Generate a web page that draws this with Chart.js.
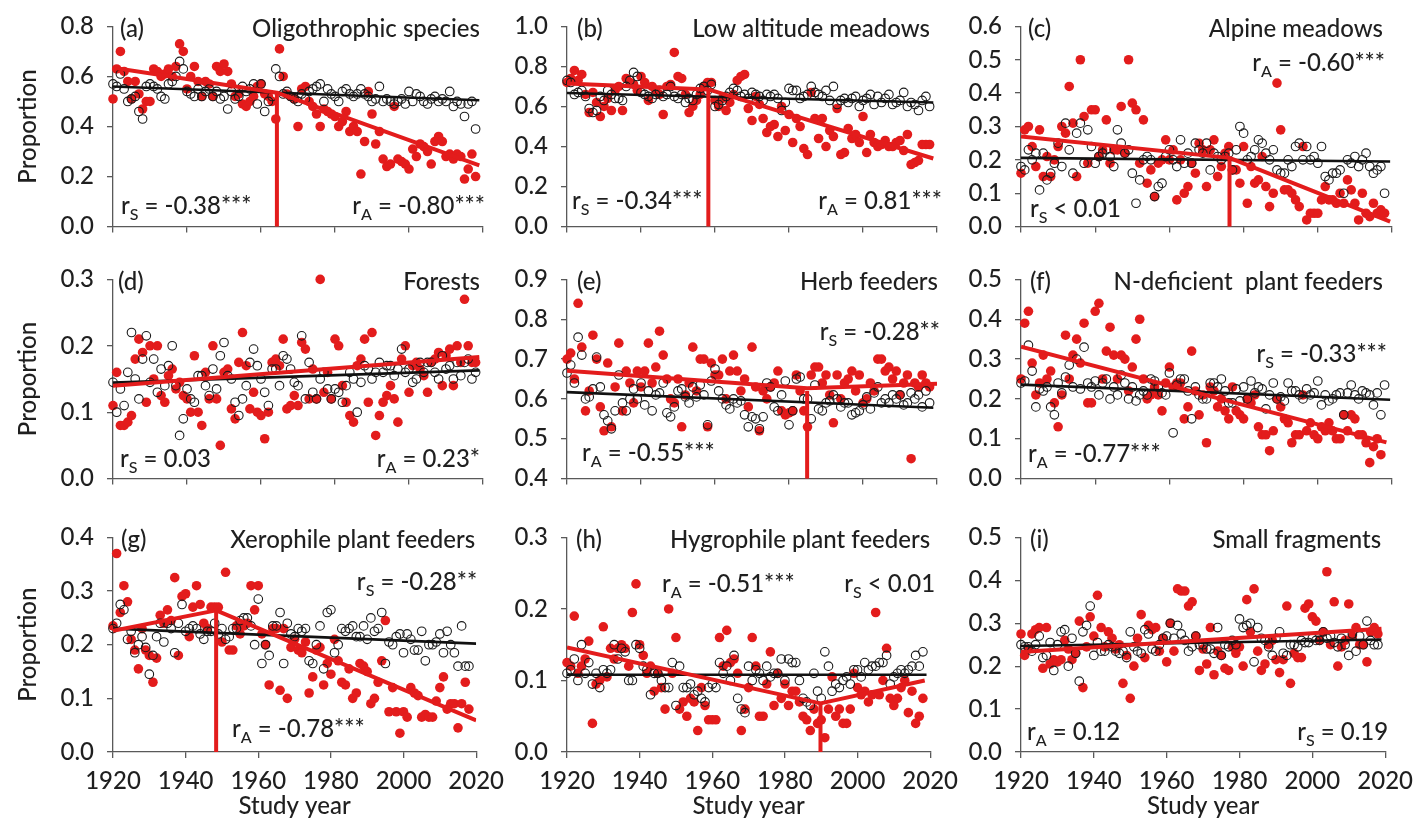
<!DOCTYPE html>
<html><head><meta charset="utf-8">
<script src="https://cdn.jsdelivr.net/npm/chart.js@4.4.0/dist/chart.umd.min.js"></script>
<style>
html,body{margin:0;padding:0;background:#fff;width:1420px;height:818px;overflow:hidden;position:relative}
canvas{position:absolute}
</style></head><body>
<script>
// ---------------- DATA ----------------
const YEARS = [1920,1921,1922,1923,1924,1925,1926,1927,1928,1929,
1930,1931,1932,1933,1934,1935,1936,1937,1938,1939,
1940,1941,1942,1943,1944,1945,1946,1947,1948,1949,
1950,1951,1952,1953,1954,1955,1956,1957,1958,1959,
1960,1961,1962,1963,1964,1965,1966,1967,1968,1969,
1970,1971,1972,1973,1974,1975,1976,1977,1978,1979,
1980,1981,1982,1983,1984,1985,1986,1987,1988,1989,
1990,1991,1992,1993,1994,1995,1996,1997,1998,1999,
2000,2001,2002,2003,2004,2005,2006,2007,2008,2009,
2010,2011,2012,2013,2014,2015,2016,2017,2018];
const X_TICKS = [1920,1940,1960,1980,2000,2020];

// (a) Oligothrophic species
const A_RED = [0.51,0.63,0.70,0.62,0.58,0.51,0.58,0.53,0.47,0.50,
0.50,0.63,0.62,0.60,0.61,0.63,0.60,0.64,0.73,0.70,
0.55,0.60,0.64,0.58,0.52,0.58,0.57,0.52,0.64,0.62,
0.65,0.62,0.57,0.52,0.53,0.49,0.48,0.50,0.52,0.56,
0.57,0.53,0.52,0.50,0.43,0.71,0.60,0.53,0.52,0.51,
0.40,0.55,0.56,0.50,0.48,0.45,0.40,0.47,0.46,0.45,
0.44,0.40,0.42,0.46,0.38,0.40,0.38,0.21,0.34,0.54,
0.45,0.33,0.38,0.27,0.24,0.25,0.48,0.27,0.26,0.25,
0.23,0.31,0.28,0.33,0.32,0.30,0.25,0.34,0.36,0.34,
0.28,0.29,0.27,0.29,0.28,0.19,0.23,0.29,0.20];
const A_BLACK = [0.57,0.56,0.61,0.55,0.50,0.51,0.52,0.46,0.43,0.56,
0.57,0.56,0.55,0.52,0.51,0.57,0.58,0.60,0.66,0.63,
0.54,0.53,0.52,0.55,0.52,0.54,0.55,0.52,0.54,0.51,
0.52,0.47,0.54,0.51,0.52,0.56,0.54,0.55,0.57,0.49,
0.57,0.46,0.50,0.52,0.63,0.60,0.53,0.54,0.52,0.51,
0.50,0.53,0.51,0.54,0.55,0.56,0.57,0.50,0.55,0.53,
0.52,0.50,0.54,0.55,0.53,0.52,0.53,0.55,0.53,0.52,
0.50,0.51,0.56,0.50,0.51,0.50,0.49,0.50,0.51,0.49,
0.54,0.50,0.53,0.52,0.50,0.49,0.51,0.52,0.50,0.51,
0.50,0.54,0.48,0.50,0.49,0.44,0.49,0.50,0.39];
const A_RED_FIT_X = [1920,1964.3,2019], A_RED_FIT_Y = [0.635,0.535,0.245];
const A_BLACK_FIT_X = [1920,2019], A_BLACK_FIT_Y = [0.56,0.505];
const A_BREAK = [1964.3,0.535];

// (b) Low altitude meadows
const B_RED = [0.72,0.74,0.78,0.73,0.76,0.66,0.57,0.67,0.62,0.55,
0.60,0.64,0.58,0.68,0.70,0.58,0.74,0.72,0.71,0.68,
0.75,0.72,0.63,0.70,0.68,0.66,0.56,0.70,0.71,0.87,
0.75,0.74,0.66,0.57,0.60,0.63,0.66,0.70,0.72,0.72,
0.63,0.60,0.64,0.58,0.62,0.66,0.73,0.75,0.76,0.59,
0.53,0.65,0.61,0.54,0.47,0.50,0.51,0.45,0.60,0.48,
0.56,0.42,0.54,0.50,0.39,0.36,0.67,0.54,0.44,0.54,
0.40,0.48,0.45,0.59,0.36,0.37,0.49,0.44,0.46,0.42,
0.55,0.37,0.46,0.42,0.40,0.41,0.43,0.40,0.40,0.42,
0.43,0.38,0.46,0.31,0.32,0.33,0.41,0.41,0.41];
const B_BLACK = [0.73,0.72,0.66,0.67,0.68,0.65,0.59,0.57,0.58,0.65,
0.63,0.68,0.66,0.64,0.64,0.63,0.70,0.73,0.77,0.75,
0.67,0.66,0.65,0.64,0.66,0.68,0.65,0.66,0.70,0.65,
0.64,0.66,0.62,0.64,0.63,0.66,0.69,0.70,0.68,0.71,
0.60,0.61,0.63,0.65,0.67,0.69,0.68,0.65,0.66,0.64,
0.67,0.66,0.65,0.63,0.66,0.65,0.66,0.64,0.58,0.62,
0.69,0.68,0.68,0.64,0.65,0.66,0.70,0.67,0.66,0.65,
0.68,0.63,0.70,0.61,0.63,0.64,0.62,0.64,0.65,0.60,
0.63,0.64,0.66,0.61,0.65,0.62,0.64,0.66,0.61,0.62,
0.63,0.67,0.60,0.62,0.61,0.58,0.63,0.65,0.60];
const B_RED_FIT_X = [1920,1958.2,2019], B_RED_FIT_Y = [0.715,0.685,0.34];
const B_BLACK_FIT_X = [1920,2019], B_BLACK_FIT_Y = [0.667,0.62];
const B_BREAK = [1958.2,0.685];

// (c) Alpine meadows
const C_RED = [0.16,0.29,0.30,0.24,0.18,0.29,0.15,0.21,0.15,0.20,
0.24,0.30,0.28,0.42,0.31,0.15,0.50,0.33,0.19,0.35,
0.35,0.21,0.23,0.32,0.19,0.23,0.23,0.36,0.22,0.50,
0.37,0.35,0.19,0.32,0.13,0.17,0.09,0.19,0.20,0.26,
0.20,0.23,0.08,0.20,0.10,0.12,0.19,0.16,0.25,0.23,
0.12,0.23,0.26,0.15,0.18,0.22,0.24,0.17,0.17,0.13,
0.24,0.07,0.18,0.13,0.14,0.21,0.12,0.06,0.10,0.43,
0.29,0.11,0.11,0.10,0.08,0.06,0.24,0.02,0.04,0.04,
0.04,0.08,0.12,0.08,0.08,0.07,0.10,0.07,0.14,0.11,
0.07,0.02,0.10,0.04,0.03,0.07,0.04,0.05,0.04];
const C_BLACK = [0.18,0.17,0.23,0.20,0.22,0.11,0.22,0.14,0.16,0.19,
0.25,0.18,0.31,0.23,0.16,0.28,0.31,0.19,0.29,0.24,
0.19,0.21,0.22,0.23,0.21,0.18,0.29,0.25,0.22,0.23,
0.16,0.07,0.14,0.20,0.21,0.20,0.09,0.12,0.13,0.21,
0.23,0.20,0.18,0.26,0.19,0.22,0.19,0.25,0.23,0.22,
0.25,0.17,0.22,0.21,0.20,0.21,0.22,0.17,0.23,0.30,
0.28,0.20,0.21,0.23,0.26,0.25,0.22,0.20,0.23,0.17,
0.16,0.16,0.20,0.18,0.24,0.25,0.20,0.24,0.20,0.21,
0.19,0.24,0.15,0.14,0.16,0.16,0.17,0.10,0.20,0.19,
0.21,0.18,0.20,0.22,0.18,0.16,0.17,0.18,0.10];
const C_RED_FIT_X = [1920,1976.2,2019.5], C_RED_FIT_Y = [0.27,0.206,0.015];
const C_BLACK_FIT_X = [1920,2019.5], C_BLACK_FIT_Y = [0.206,0.195];
const C_BREAK = [1976.2,0.206];

// (d) Forests
const D_RED = [0.11,0.16,0.08,0.08,0.085,0.095,0.18,0.21,0.19,0.115,
0.20,0.15,0.20,0.125,0.115,0.155,0.165,0.135,0.145,0.125,
0.12,0.10,0.185,0.10,0.08,0.16,0.12,0.20,0.12,0.05,
0.16,0.165,0.105,0.09,0.175,0.22,0.17,0.105,0.13,0.10,
0.095,0.06,0.10,0.175,0.18,0.17,0.21,0.105,0.11,0.125,
0.11,0.205,0.195,0.12,0.165,0.12,0.30,0.13,0.16,0.12,
0.21,0.20,0.14,0.115,0.095,0.085,0.17,0.18,0.21,0.115,
0.22,0.065,0.095,0.115,0.125,0.14,0.12,0.085,0.18,0.20,
0.13,0.17,0.175,0.165,0.155,0.13,0.175,0.18,0.19,0.14,
0.185,0.195,0.14,0.20,0.175,0.27,0.20,0.175,0.175];
const D_BLACK = [0.145,0.10,0.135,0.11,0.16,0.22,0.15,0.12,0.18,0.215,
0.145,0.18,0.13,0.165,0.14,0.17,0.20,0.14,0.065,0.09,
0.135,0.12,0.115,0.155,0.155,0.14,0.125,0.165,0.135,0.185,
0.205,0.155,0.15,0.115,0.095,0.12,0.14,0.175,0.195,0.17,
0.15,0.13,0.11,0.165,0.165,0.14,0.185,0.18,0.165,0.145,
0.14,0.215,0.12,0.175,0.13,0.12,0.15,0.16,0.135,0.12,
0.135,0.13,0.115,0.14,0.16,0.15,0.10,0.145,0.17,0.165,
0.15,0.16,0.175,0.16,0.17,0.17,0.155,0.165,0.195,0.16,
0.165,0.145,0.15,0.175,0.16,0.175,0.175,0.16,0.15,0.185,
0.165,0.17,0.15,0.175,0.155,0.175,0.18,0.15,0.16];
const D_RED_FIT_X = [1920,2019], D_RED_FIT_Y = [0.14,0.183];
const D_BLACK_FIT_X = [1920,2019], D_BLACK_FIT_Y = [0.1445,0.163];

// (e) Herb feeders
const E_RED = [0.70,0.715,0.65,0.84,0.73,0.57,0.62,0.76,0.70,0.58,
0.52,0.69,0.53,0.63,0.74,0.57,0.67,0.64,0.59,0.67,
0.63,0.67,0.74,0.64,0.68,0.77,0.71,0.65,0.60,0.59,
0.65,0.53,0.61,0.64,0.73,0.62,0.70,0.70,0.53,0.69,
0.66,0.66,0.70,0.60,0.67,0.71,0.67,0.62,0.65,0.58,
0.73,0.63,0.52,0.62,0.60,0.63,0.64,0.67,0.57,0.56,
0.565,0.57,0.66,0.62,0.57,0.53,0.66,0.68,0.68,0.64,
0.66,0.61,0.54,0.66,0.60,0.64,0.65,0.67,0.62,0.66,
0.59,0.60,0.64,0.62,0.70,0.70,0.67,0.68,0.65,0.67,
0.61,0.64,0.66,0.45,0.64,0.63,0.66,0.64,0.63];
const E_BLACK = [0.665,0.685,0.64,0.755,0.71,0.60,0.605,0.625,0.705,0.63,
0.56,0.545,0.525,0.57,0.66,0.59,0.57,0.60,0.625,0.60,
0.64,0.585,0.62,0.57,0.61,0.615,0.64,0.565,0.555,0.58,
0.62,0.625,0.605,0.59,0.63,0.605,0.635,0.61,0.535,0.645,
0.675,0.62,0.60,0.585,0.575,0.60,0.59,0.595,0.56,0.53,
0.555,0.55,0.525,0.555,0.64,0.63,0.58,0.57,0.61,0.645,
0.535,0.57,0.65,0.655,0.60,0.60,0.55,0.635,0.575,0.57,
0.59,0.595,0.61,0.60,0.58,0.59,0.59,0.56,0.565,0.57,
0.585,0.605,0.575,0.615,0.63,0.59,0.60,0.59,0.61,0.60,
0.61,0.585,0.59,0.615,0.60,0.61,0.58,0.62,0.59];
const E_RED_FIT_X = [1920,1984.9,2020], E_RED_FIT_Y = [0.671,0.627,0.638];
const E_BLACK_FIT_X = [1920,2019], E_BLACK_FIT_Y = [0.617,0.578];
const E_BREAK = [1984.9,0.62];

// (f) N-deficient plant feeders
const F_RED = [0.25,0.39,0.42,0.29,0.21,0.24,0.31,0.25,0.27,0.19,
0.13,0.21,0.36,0.25,0.31,0.35,0.29,0.39,0.19,0.19,
0.42,0.44,0.25,0.32,0.38,0.31,0.25,0.31,0.30,0.22,
0.28,0.35,0.40,0.25,0.20,0.21,0.23,0.21,0.17,0.24,
0.28,0.23,0.24,0.24,0.15,0.18,0.32,0.22,0.16,0.21,
0.09,0.23,0.22,0.18,0.20,0.17,0.15,0.23,0.17,0.16,
0.15,0.20,0.19,0.21,0.13,0.11,0.11,0.07,0.12,0.20,
0.18,0.15,0.14,0.09,0.11,0.11,0.21,0.12,0.14,0.11,
0.10,0.13,0.12,0.14,0.12,0.10,0.10,0.16,0.12,0.16,
0.15,0.11,0.11,0.09,0.04,0.08,0.10,0.06];
const F_BLACK = [0.24,0.245,0.335,0.27,0.18,0.225,0.22,0.23,0.18,0.16,
0.24,0.215,0.255,0.285,0.23,0.30,0.225,0.33,0.24,0.23,
0.245,0.21,0.24,0.25,0.20,0.23,0.21,0.26,0.24,0.20,
0.23,0.195,0.21,0.22,0.21,0.25,0.245,0.23,0.215,0.21,
0.265,0.115,0.235,0.25,0.25,0.22,0.15,0.23,0.21,0.20,
0.20,0.24,0.24,0.23,0.25,0.22,0.19,0.19,0.225,0.195,
0.23,0.20,0.245,0.215,0.23,0.225,0.175,0.21,0.24,0.20,
0.205,0.195,0.24,0.22,0.22,0.21,0.20,0.225,0.21,0.215,
0.245,0.185,0.21,0.195,0.20,0.21,0.215,0.16,0.215,0.235,
0.21,0.20,0.22,0.215,0.21,0.185,0.215,0.16,0.235];
const F_RED_FIT_X = [1920,2018.5], F_RED_FIT_Y = [0.331,0.091];
const F_BLACK_FIT_X = [1920,2019.5], F_BLACK_FIT_Y = [0.236,0.198];

// (g) Xerophile plant feeders
const G_RED = [0.235,0.37,0.26,0.31,0.28,0.21,0.19,0.155,0.23,0.19,
0.18,0.13,0.175,0.255,0.24,0.265,0.245,0.325,0.18,0.29,
0.295,0.215,0.27,0.31,0.275,0.24,0.23,0.27,0.27,0.27,
0.205,0.335,0.19,0.19,0.235,0.22,0.235,0.24,0.31,0.265,
0.31,0.22,0.20,0.125,0.23,0.23,0.115,0.23,0.10,0.195,
0.21,0.19,0.185,0.205,0.11,0.14,0.19,0.195,0.125,0.165,
0.145,0.21,0.17,0.13,0.125,0.155,0.10,0.11,0.165,0.16,
0.15,0.09,0.10,0.13,0.17,0.245,0.075,0.12,0.075,0.035,
0.075,0.065,0.12,0.11,0.105,0.065,0.07,0.065,0.065,0.095,
0.12,0.14,0.08,0.09,0.09,0.045,0.09,0.13,0.08];
const G_BLACK = [0.23,0.24,0.275,0.265,0.21,0.225,0.185,0.20,0.215,0.195,
0.145,0.18,0.215,0.24,0.205,0.24,0.23,0.185,0.24,0.275,
0.225,0.23,0.235,0.23,0.22,0.21,0.225,0.225,0.24,0.22,
0.23,0.21,0.215,0.23,0.23,0.245,0.25,0.25,0.235,0.20,
0.285,0.165,0.20,0.18,0.235,0.235,0.26,0.165,0.24,0.22,
0.215,0.23,0.225,0.23,0.17,0.165,0.20,0.235,0.155,0.26,
0.265,0.185,0.20,0.23,0.225,0.23,0.235,0.215,0.215,0.235,
0.21,0.25,0.225,0.23,0.26,0.165,0.205,0.20,0.215,0.22,
0.185,0.22,0.21,0.19,0.19,0.225,0.17,0.20,0.20,0.205,
0.22,0.185,0.225,0.20,0.185,0.16,0.235,0.16,0.16];
const G_RED_FIT_X = [1920,1948.4,2020], G_RED_FIT_Y = [0.226,0.264,0.059];
const G_BLACK_FIT_X = [1920,2020], G_BLACK_FIT_Y = [0.23,0.202];
const G_BREAK = [1948.4,0.264];

// (h) Hygrophile plant feeders
const H_RED = [0.125,0.12,0.19,0.11,0.12,0.13,0.155,0.04,0.095,0.10,
0.175,0.105,0.145,0.13,0.145,0.15,0.145,0.12,0.195,0.235,
0.15,0.135,0.11,0.12,0.085,0.11,0.09,0.06,0.20,0.11,
0.16,0.06,0.07,0.05,0.075,0.07,0.03,0.09,0.065,0.045,
0.045,0.045,0.16,0.12,0.17,0.125,0.13,0.11,0.03,0.06,
0.09,0.16,0.12,0.05,0.05,0.095,0.14,0.065,0.11,0.075,
0.095,0.065,0.085,0.085,0.07,0.05,0.045,0.03,0.06,0.04,
0.045,0.02,0.06,0.105,0.05,0.06,0.04,0.04,0.06,0.11,
0.09,0.08,0.085,0.07,0.08,0.195,0.08,0.10,0.145,0.075,
0.065,0.075,0.09,0.10,0.055,0.085,0.04,0.05,0.075];
const H_BLACK = [0.11,0.115,0.13,0.10,0.15,0.11,0.125,0.095,0.11,0.09,
0.115,0.11,0.115,0.15,0.13,0.145,0.14,0.10,0.10,0.15,
0.145,0.12,0.115,0.08,0.11,0.11,0.10,0.09,0.09,0.125,
0.065,0.12,0.09,0.09,0.095,0.08,0.085,0.075,0.07,0.09,
0.095,0.09,0.125,0.11,0.12,0.10,0.135,0.075,0.06,0.055,
0.12,0.10,0.115,0.11,0.10,0.12,0.105,0.11,0.11,0.13,
0.10,0.13,0.125,0.125,0.10,0.075,0.07,0.065,0.11,0.085,
0.075,0.14,0.12,0.085,0.095,0.09,0.10,0.105,0.095,0.115,
0.115,0.105,0.125,0.115,0.12,0.12,0.125,0.125,0.135,0.095,
0.105,0.11,0.115,0.11,0.115,0.12,0.135,0.12,0.14];
const H_RED_FIT_X = [1920,1989.8,2018.5], H_RED_FIT_Y = [0.146,0.068,0.10];
const H_BLACK_FIT_X = [1920,2019], H_BLACK_FIT_Y = [0.108,0.108];
const H_BREAK = [1989.8,0.068];

// (i) Small fragments
const I_RED = [0.275,0.225,0.24,0.275,0.285,0.29,0.195,0.29,0.205,0.215,
0.21,0.215,0.26,0.24,0.215,0.23,0.305,0.15,0.245,0.315,
0.27,0.365,0.29,0.245,0.28,0.265,0.24,0.25,0.16,0.225,
0.125,0.20,0.265,0.32,0.22,0.295,0.285,0.29,0.235,0.265,
0.21,0.30,0.235,0.38,0.375,0.375,0.34,0.35,0.27,0.19,
0.24,0.205,0.29,0.18,0.235,0.225,0.195,0.19,0.245,0.23,
0.245,0.20,0.355,0.28,0.38,0.235,0.19,0.205,0.25,0.26,
0.215,0.185,0.215,0.34,0.16,0.23,0.22,0.22,0.335,0.345,
0.315,0.305,0.26,0.28,0.42,0.25,0.35,0.20,0.245,0.26,
0.345,0.27,0.29,0.25,0.25,0.21,0.28,0.29,0.275];
const I_BLACK = [0.25,0.245,0.245,0.235,0.25,0.27,0.22,0.225,0.255,0.19,
0.25,0.28,0.285,0.20,0.265,0.23,0.165,0.28,0.295,0.34,
0.225,0.255,0.235,0.235,0.25,0.245,0.235,0.23,0.235,0.22,
0.28,0.245,0.235,0.23,0.285,0.275,0.24,0.235,0.25,0.265,
0.27,0.30,0.265,0.295,0.275,0.26,0.235,0.245,0.27,0.25,
0.25,0.24,0.24,0.23,0.29,0.225,0.25,0.245,0.26,0.25,
0.31,0.29,0.295,0.30,0.21,0.29,0.265,0.26,0.245,0.225,
0.265,0.28,0.23,0.225,0.25,0.25,0.245,0.26,0.255,0.255,
0.265,0.26,0.26,0.28,0.265,0.27,0.255,0.245,0.265,0.25,
0.225,0.275,0.235,0.27,0.25,0.305,0.26,0.25,0.25];
const I_RED_FIT_X = [1920,2019], I_RED_FIT_Y = [0.233,0.287];
const I_BLACK_FIT_X = [1920,2019], I_BLACK_FIT_Y = [0.247,0.262];

// ---------------- STYLE / LAYOUT ----------------
const FONT = 'Lato, "Open Sans", sans-serif';
const FW = '500';
const FS = 24, FS_SUB = 16;
const RED = '#e31c1c', BLK = '#111111', AX = '#595959', TXT = '#1f1f1f';
const COLS = [[113,483],[567,937],[1021,1392]];
const ROWS = [[21,242],[274,494],[532,752]];

const R = (s, rest) => [{t:'r'},{t:s,sub:true},{t:rest}];
const T = s => [{t:s}];

const PANELS = [
 {col:0,row:0,ymin:0,ymax:0.8,step:0.2,red:A_RED,black:A_BLACK,rf:[A_RED_FIT_X,A_RED_FIT_Y],bf:[A_BLACK_FIT_X,A_BLACK_FIT_Y],brk:A_BREAK,
  notes:[{p:T('(a)'),s:'L',dx:7,f:'T',dy:11},{p:T('Oligothrophic species'),s:'R',dx:-3,f:'T',dy:11},
         {p:R('S',' = -0.38***'),s:'L',dx:8,f:'B',dy:-13},{p:R('A',' = -0.80***'),s:'R',dx:2,f:'B',dy:-13}]},
 {col:1,row:0,ymin:0,ymax:1.0,step:0.2,red:B_RED,black:B_BLACK,rf:[B_RED_FIT_X,B_RED_FIT_Y],bf:[B_BLACK_FIT_X,B_BLACK_FIT_Y],brk:B_BREAK,
  notes:[{p:T('(b)'),s:'L',dx:10,f:'T',dy:11},{p:T('Low altitude meadows'),s:'R',dx:-7,f:'T',dy:11},
         {p:R('S',' = -0.34***'),s:'L',dx:5,f:'B',dy:-18},{p:R('A',' = 0.81***'),s:'R',dx:5,f:'B',dy:-18}]},
 {col:2,row:0,ymin:0,ymax:0.6,step:0.1,red:C_RED,black:C_BLACK,rf:[C_RED_FIT_X,C_RED_FIT_Y],bf:[C_BLACK_FIT_X,C_BLACK_FIT_Y],brk:C_BREAK,
  notes:[{p:T('(c)'),s:'L',dx:7,f:'T',dy:11},{p:T('Alpine meadows'),s:'R',dx:-9,f:'T',dy:11},
         {p:R('A',' = -0.60***'),s:'R',dx:-7,f:'T',dy:45},{p:R('S',' < 0.01'),s:'L',dx:9,f:'B',dy:-10}]},
 {col:0,row:1,ymin:0,ymax:0.3,step:0.1,red:D_RED,black:D_BLACK,rf:[D_RED_FIT_X,D_RED_FIT_Y],bf:[D_BLACK_FIT_X,D_BLACK_FIT_Y],brk:null,
  notes:[{p:T('(d)'),s:'L',dx:5,f:'T',dy:11},{p:T('Forests'),s:'R',dx:-3,f:'T',dy:11},
         {p:R('S',' = 0.03'),s:'L',dx:7,f:'B',dy:-12},{p:R('A',' = 0.23*'),s:'R',dx:-3,f:'B',dy:-12}]},
 {col:1,row:1,ymin:0.4,ymax:0.9,step:0.1,red:E_RED,black:E_BLACK,rf:[E_RED_FIT_X,E_RED_FIT_Y],bf:[E_BLACK_FIT_X,E_BLACK_FIT_Y],brk:E_BREAK,
  notes:[{p:T('(e)'),s:'L',dx:10,f:'T',dy:11},{p:T('Herb feeders'),s:'R',dx:1,f:'T',dy:11},
         {p:R('S',' = -0.28**'),s:'R',dx:3,f:'T',dy:61},{p:R('A',' = -0.55***'),s:'L',dx:15,f:'B',dy:-18}]},
 {col:2,row:1,ymin:0,ymax:0.5,step:0.1,red:F_RED,black:F_BLACK,rf:[F_RED_FIT_X,F_RED_FIT_Y],bf:[F_BLACK_FIT_X,F_BLACK_FIT_Y],brk:null,
  notes:[{p:T('(f)'),s:'L',dx:9,f:'T',dy:11},{p:T('N-deficient  plant feeders'),s:'R',dx:-9,f:'T',dy:11},
         {p:R('S',' = -0.33***'),s:'R',dx:-5,f:'T',dy:83},{p:R('A',' = -0.77***'),s:'L',dx:7,f:'B',dy:-17}]},
 {col:0,row:2,ymin:0,ymax:0.4,step:0.1,red:G_RED,black:G_BLACK,rf:[G_RED_FIT_X,G_RED_FIT_Y],bf:[G_BLACK_FIT_X,G_BLACK_FIT_Y],brk:G_BREAK,
  notes:[{p:T('(g)'),s:'L',dx:8,f:'T',dy:11},{p:T('Xerophile plant feeders'),s:'R',dx:-1,f:'T',dy:11},
         {p:R('S',' = -0.28**'),s:'R',dx:1,f:'T',dy:53},{p:R('A',' = -0.78***'),s:'L',dx:119,f:'B',dy:-15}]},
 {col:1,row:2,ymin:0,ymax:0.3,step:0.1,red:H_RED,black:H_BLACK,rf:[H_RED_FIT_X,H_RED_FIT_Y],bf:[H_BLACK_FIT_X,H_BLACK_FIT_Y],brk:H_BREAK,
  notes:[{p:T('(h)'),s:'L',dx:9,f:'T',dy:11},{p:T('Hygrophile plant feeders'),s:'R',dx:0,f:'T',dy:11},
         {p:R('A',' = -0.51***'),s:'L',dx:95,f:'T',dy:55},{p:R('S',' < 0.01'),s:'R',dx:5,f:'T',dy:55}]},
 {col:2,row:2,ymin:0,ymax:0.5,step:0.1,red:I_RED,black:I_BLACK,rf:[I_RED_FIT_X,I_RED_FIT_Y],bf:[I_BLACK_FIT_X,I_BLACK_FIT_Y],brk:null,
  notes:[{p:T('(i)'),s:'L',dx:9,f:'T',dy:11},{p:T('Small fragments'),s:'R',dx:-4,f:'T',dy:11},
         {p:R('A',' = 0.12'),s:'L',dx:6,f:'B',dy:-12},{p:R('S',' = 0.19'),s:'R',dx:3,f:'B',dy:-12}]}
];

function drawRich(ctx, parts, x, y, align){
  const mf = FW + ' ' + FS + 'px ' + FONT, sf = FW + ' ' + FS_SUB + 'px ' + FONT;
  let w = 0;
  for (const q of parts){ ctx.font = q.sub ? sf : mf; w += ctx.measureText(q.t).width; }
  let cx = align === 'right' ? x - w : x;
  ctx.textAlign = 'left'; ctx.textBaseline = 'alphabetic'; ctx.fillStyle = TXT;
  for (const q of parts){
    ctx.font = q.sub ? sf : mf;
    ctx.fillText(q.t, cx, y + (q.sub ? 6 : 0));
    cx += ctx.measureText(q.t).width;
  }
}

const annotPlugin = {
  id: 'annot',
  afterDatasetsDraw(chart, args, opts){
    const ctx = chart.ctx, a = chart.chartArea;
    ctx.save();
    for (const n of (opts.items || [])){
      const x = n.s === 'R' ? a.right + n.dx : a.left + n.dx;
      const y = n.f === 'B' ? a.bottom + n.dy : a.top + n.dy;
      drawRich(ctx, n.p, x, y, n.s === 'R' ? 'right' : 'left');
    }
    ctx.restore();
  }
};

const pts = (xs, ys) => xs.map((x, i) => ({x: x, y: ys[i]})).filter(d => d.y != null);

function makePanel(p){
  const [pl, pr] = COLS[p.col], [pt, pb] = ROWS[p.row];
  const yW = p.col === 0 ? pl : 75;
  const padTop = 22, padRight = 30;
  const xH = p.row === 2 ? 66 : 12;
  const W = yW + (pr - pl) + padRight;
  const H = padTop + (pb - pt) + xH;
  const cv = document.createElement('canvas');
  cv.width = W; cv.height = H;
  cv.style.left = (pl - yW) + 'px'; cv.style.top = (pt - padTop) + 'px';
  cv.style.width = W + 'px'; cv.style.height = H + 'px';
  document.body.appendChild(cv);

  const datasets = [];
  if (p.brk) datasets.push({data: [{x: p.brk[0], y: p.ymin}, {x: p.brk[0], y: p.brk[1]}], showLine: true,
    borderColor: RED, borderWidth: 4, pointRadius: 0, order: 0, clip: false, borderCapStyle: 'butt'});
  datasets.push({data: pts(p.rf[0], p.rf[1]), showLine: true, borderColor: RED, borderWidth: 4, pointRadius: 0, order: 1, borderJoinStyle: 'round'});
  datasets.push({data: pts(p.bf[0], p.bf[1]), showLine: true, borderColor: BLK, borderWidth: 2.6, pointRadius: 0, order: 2});
  datasets.push({data: pts(YEARS, p.black), showLine: false, pointRadius: 4.3, backgroundColor: 'rgba(0,0,0,0)',
    borderColor: '#1a1a1a', borderWidth: 1.1, order: 3, clip: false});
  datasets.push({data: pts(YEARS, p.red), showLine: false, pointRadius: 4.8, backgroundColor: RED,
    borderColor: RED, borderWidth: 0, order: 4, clip: false});

  const tickFont = {family: FONT, size: FS, weight: FW};
  new Chart(cv, {
    type: 'scatter',
    data: {datasets},
    plugins: [annotPlugin],
    options: {
      responsive: false, animation: false, devicePixelRatio: 1,
      events: [],
      layout: {padding: {top: padTop, right: padRight, left: 0, bottom: 0}},
      plugins: {legend: {display: false}, tooltip: {enabled: false}, annot: {items: p.notes}},
      scales: {
        x: {type: 'linear', min: X_TICKS[0], max: X_TICKS[X_TICKS.length - 1],
          afterFit: s => { s.height = xH; },
          afterBuildTicks: s => { s.ticks = X_TICKS.map(v => ({value: v})); },
          ticks: {display: p.row === 2, padding: 9, color: TXT, font: tickFont,
            callback: v => String(v), maxRotation: 0, autoSkip: false},
          grid: {drawOnChartArea: false, drawTicks: true, tickLength: 6, color: AX, lineWidth: 1.3},
          border: {display: true, color: AX, width: 1.3},
          title: {display: p.row === 2, text: 'Study year', color: TXT, font: {family: FONT, size: FS, weight: FW, lineHeight: 1}, padding: {top: 0, bottom: 0}}},
        y: {type: 'linear', min: p.ymin, max: p.ymax,
          afterFit: s => { s.width = yW; },
          ticks: {stepSize: p.step, padding: 13, color: TXT, font: tickFont,
            callback: v => Number(v).toFixed(1)},
          grid: {drawOnChartArea: false, drawTicks: true, tickLength: 6, color: AX, lineWidth: 1.3},
          border: {display: true, color: AX, width: 1.3},
          title: {display: p.col === 0, text: 'Proportion', color: TXT, font: {family: FONT, size: FS, weight: FW, lineHeight: 1}, padding: {top: 16, bottom: 0}}}
      }
    }
  });
}

PANELS.forEach(makePanel);
</script>
</body></html>
